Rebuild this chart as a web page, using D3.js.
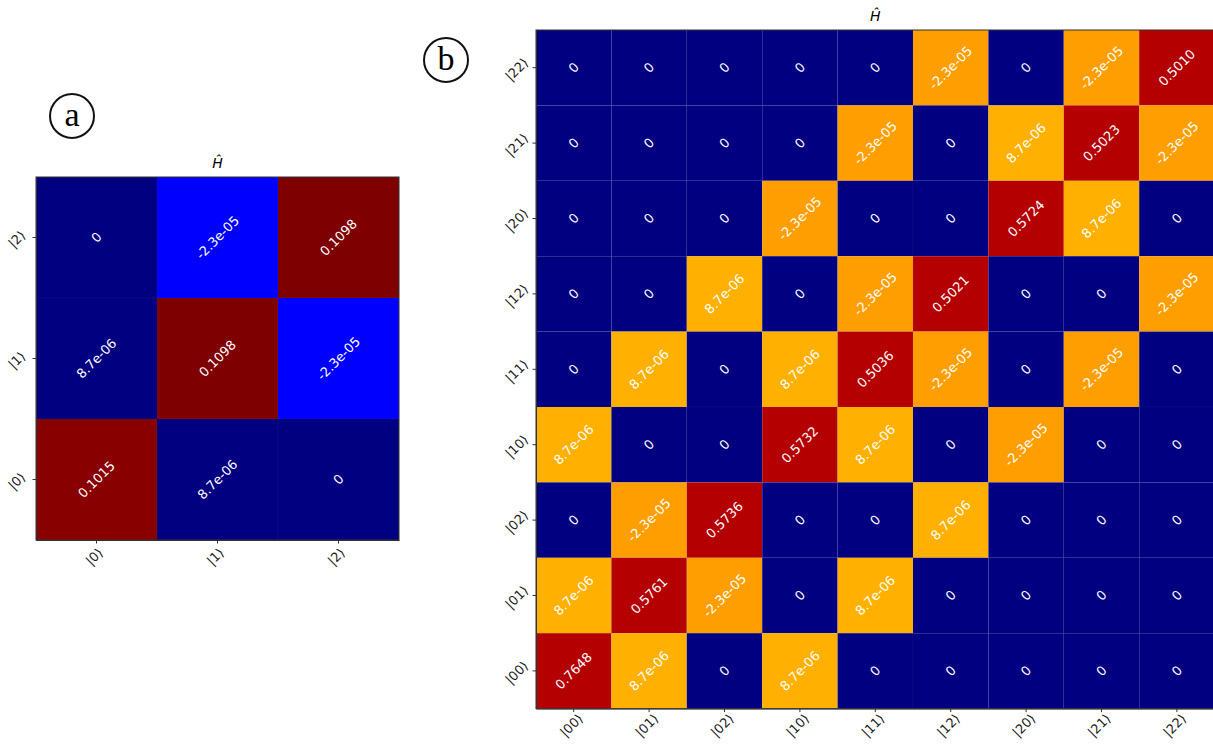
<!DOCTYPE html>
<html lang="en">
<head>
    <meta charset="UTF-8">
    <title>H matrix</title>
    <script src="https://cdnjs.cloudflare.com/ajax/libs/d3/7.8.5/d3.min.js"></script>
    <style>
        body { margin: 0; background: #fff; }
        svg { display: block; font-family: "DejaVu Sans", sans-serif; }
        .cell-text { fill: #fff; font-size: 13px; text-anchor: middle; dominant-baseline: central; }
        .tick line, .domain { stroke: #333; }
        .title { font-size: 14px; font-style: italic; text-anchor: middle; }
        .badge circle { fill: none; stroke: #111; stroke-width: 2; }
        .badge text { font-family: "Liberation Serif", "DejaVu Serif", serif; font-size: 34px; text-anchor: middle; dominant-baseline: central; }
    </style>
</head>
<body>
    <div id="wrapper"></div>
    <script>
        // 数据 —— 行从上到下
        const ketsA = ['|0⟩', '|1⟩', '|2⟩']
        const rowsA = ['|2⟩', '|1⟩', '|0⟩']
        const valuesA = [
            [0, -2.3e-05, 0.1098],
            [8.7e-06, 0.1098, -2.3e-05],
            [0.1015, 8.7e-06, 0],
        ]

        const ketsB = ['|00⟩', '|01⟩', '|02⟩', '|10⟩', '|11⟩', '|12⟩', '|20⟩', '|21⟩', '|22⟩']
        const rowsB = ['|22⟩', '|21⟩', '|20⟩', '|12⟩', '|11⟩', '|10⟩', '|02⟩', '|01⟩', '|00⟩']
        const valuesB = [
            [0, 0, 0, 0, 0, -2.3e-05, 0, -2.3e-05, 0.5010],
            [0, 0, 0, 0, -2.3e-05, 0, 8.7e-06, 0.5023, -2.3e-05],
            [0, 0, 0, -2.3e-05, 0, 0, 0.5724, 8.7e-06, 0],
            [0, 0, 8.7e-06, 0, -2.3e-05, 0.5021, 0, 0, -2.3e-05],
            [0, 8.7e-06, 0, 8.7e-06, 0.5036, -2.3e-05, 0, -2.3e-05, 0],
            [8.7e-06, 0, 0, 0.5732, 8.7e-06, 0, -2.3e-05, 0, 0],
            [0, -2.3e-05, 0.5736, 0, 0, 8.7e-06, 0, 0, 0],
            [8.7e-06, 0.5761, -2.3e-05, 0, 8.7e-06, 0, 0, 0, 0],
            [0.7648, 8.7e-06, 0, 8.7e-06, 0, 0, 0, 0, 0],
        ]

        // 颜色比例尺
        const colorA = d3.scaleThreshold()
            .domain([-1e-6, 1e-3, 0.105])
            .range(['#0000ff', '#000080', '#880000', '#7f0000'])
        const colorB = d3.scaleThreshold()
            .domain([-1e-6, 1e-6, 1e-3])
            .range(['#ff9e00', '#000080', '#ffb000', '#b40000'])

        function formatValue(v) {
            if (v === 0) return '0'
            if (Math.abs(v) < 1e-3) return v.toExponential(1).replace(/e([+-])(\d)$/, 'e$10$2')
            return v.toFixed(4)
        }

        const svg = d3.select('#wrapper')
            .append('svg')
                .attr('width', 1213)
                .attr('height', 745)

        function drawPanel(opts) {
            const { cols, rows, values, color, left, top, size, badge } = opts
            const width = size * cols.length
            const height = size * rows.length

            const bounds = svg.append('g')
                .attr('transform', `translate(${left},${top})`)

            const xScale = d3.scaleBand().domain(cols).range([0, width])
            const yScale = d3.scaleBand().domain(rows).range([0, height])

            const cells = []
            values.forEach((row, i) => row.forEach((v, j) => cells.push({ row: rows[i], col: cols[j], v })))

            bounds.selectAll('rect.cell')
                .data(cells)
                .join('rect')
                    .attr('class', 'cell')
                    .attr('x', d => xScale(d.col))
                    .attr('y', d => yScale(d.row))
                    .attr('width', xScale.bandwidth())
                    .attr('height', yScale.bandwidth())
                    .attr('fill', d => color(d.v))
                    .attr('stroke', 'rgba(140,140,200,0.07)')
                    .attr('stroke-width', 0.8)

            bounds.selectAll('text.cell-text')
                .data(cells)
                .join('text')
                    .attr('class', 'cell-text')
                    .attr('transform', d => `translate(${xScale(d.col) + xScale.bandwidth() / 2},${yScale(d.row) + yScale.bandwidth() / 2}) rotate(-45)`)
                    .text(d => formatValue(d.v))

            // 坐标轴
            const xAxis = bounds.append('g')
                .attr('transform', `translate(0,${height})`)
                .call(d3.axisBottom(xScale).tickSize(3.5).tickSizeOuter(0))
            xAxis.selectAll('.tick text')
                .attr('transform', 'translate(-2,17) rotate(-45)')
                .attr('dy', '0.32em')
                .attr('y', 0)
                .attr('fill', '#1a1a1a')
                .style('font-size', '13px')
                .style('font-family', '"DejaVu Sans", sans-serif')
                .style('text-anchor', 'middle')

            const yAxis = bounds.append('g')
                .call(d3.axisLeft(yScale).tickSize(3.5).tickSizeOuter(0))
            yAxis.selectAll('.tick text')
                .attr('transform', 'translate(-19,2) rotate(-45)')
                .attr('x', 0)
                .attr('dy', '0.32em')
                .attr('fill', '#1a1a1a')
                .style('font-size', '13px')
                .style('font-family', '"DejaVu Sans", sans-serif')
                .style('text-anchor', 'middle')

            // 边框
            bounds.append('rect')
                .attr('width', width)
                .attr('height', height)
                .attr('fill', 'none')
                .attr('stroke', '#333')
                .attr('stroke-width', 1)

            bounds.append('text')
                .attr('class', 'title')
                .attr('x', width / 2)
                .attr('y', -9)
                .text('Ĥ')

            const b = svg.append('g')
                .attr('class', 'badge')
                .attr('transform', `translate(${badge.x},${badge.y})`)
            b.append('circle').attr('r', 22)
            b.append('text').attr('y', -2).text(badge.label)
        }

        drawPanel({
            cols: ketsA, rows: rowsA, values: valuesA, color: colorA,
            left: 36, top: 177, size: 121,
            badge: { x: 72, y: 116, label: 'a' },
        })

        drawPanel({
            cols: ketsB, rows: rowsB, values: valuesB, color: colorB,
            left: 536, top: 30, size: 75.4,
            badge: { x: 446, y: 60, label: 'b' },
        })
    </script>
</body>
</html>
